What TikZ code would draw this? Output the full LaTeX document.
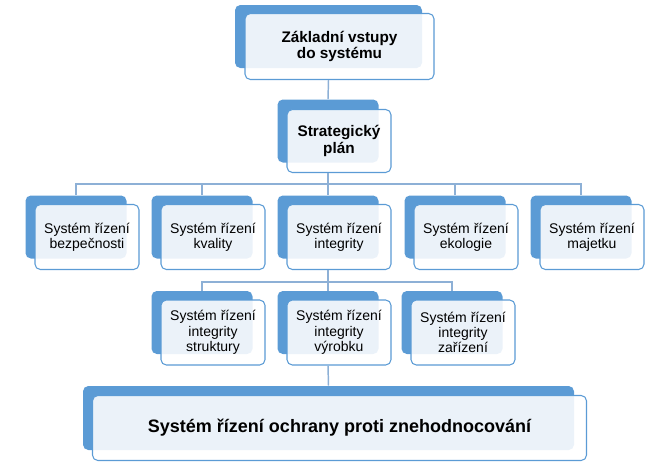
\documentclass[tikz,border=0pt]{standalone}
\usepackage{fontspec}
\setmainfont{Liberation Sans}
\usepackage{tikz}
\definecolor{boxblue}{HTML}{5B9BD5}
\definecolor{linkblue}{HTML}{8DB0D6}

\begin{document}
\begin{tikzpicture}[x=0.75pt,y=-0.75pt,
  back/.style={rectangle,rounded corners=4pt,fill=boxblue,draw=none,inner sep=0pt},
  front/.style={rectangle,rounded corners=4pt,draw=boxblue,line width=0.8pt,fill=white,fill opacity=0.88,text opacity=1,align=center,inner sep=2pt,xshift=8.25pt,yshift=-7.5pt},
  small/.style={minimum width=75.75pt,minimum height=47.25pt},
  smallf/.style={minimum width=78pt,minimum height=48.75pt,font=\fontsize{10.5}{11.5}\selectfont},
  link/.style={draw=linkblue,line width=1.1pt}]
  \useasboundingbox (0,0) rectangle (665,475);
  \node[back,minimum width=140.25pt,minimum height=47.25pt] (topB) at (328.5,36.5) {};
  \node[front,minimum width=141.75pt,minimum height=49.5pt,font=\fontsize{11.5}{12.5}\selectfont\bfseries] (top) at (topB) {Základní vstupy\\do systému};
  \node[back,small] (stratB) at (328,131) {};
  \node[front,minimum width=78pt,minimum height=47.25pt,font=\fontsize{11.5}{12.5}\selectfont\bfseries] (strat) at (stratB) {Strategický\\plán};
  \node[back,small] (s1B) at (76,227) {};
  \node[front,smallf] (s1) at (s1B) {Systém řízení\\bezpečnosti};
  \node[back,small] (s2B) at (202,227) {};
  \node[front,smallf] (s2) at (s2B) {Systém řízení\\kvality};
  \node[back,small] (s3B) at (328,227) {};
  \node[front,smallf] (s3) at (s3B) {Systém řízení\\integrity};
  \node[back,small] (s4B) at (455,227) {};
  \node[front,smallf] (s4) at (s4B) {Systém řízení\\ekologie};
  \node[back,small] (s5B) at (581,227) {};
  \node[front,smallf] (s5) at (s5B) {Systém řízení\\majetku};
  \node[back,small] (i1B) at (202,322.5) {};
  \node[front,smallf] (i1) at (i1B) {Systém řízení\\integrity\\struktury};
  \node[back,small] (i2B) at (328,322.5) {};
  \node[front,smallf] (i2) at (i2B) {Systém řízení\\integrity\\výrobku};
  \node[back,small] (i3B) at (452,322.5) {};
  \node[front,smallf] (i3) at (i3B) {Systém řízení\\integrity\\zařízení};
  \node[back,minimum width=368.25pt,minimum height=48pt] (protB) at (328.5,418) {};
  \node[front,minimum width=370.5pt,minimum height=48.75pt,font=\fontsize{13.5}{15}\selectfont\bfseries] (prot) at (protB) {Systém řízení ochrany proti znehodnocování};
  \coordinate (bus1) at (328,184);
  \coordinate (bus2) at (328,282);
  \draw[link] (topB |- top.south) -- (stratB.north);
  \draw[link] (stratB |- strat.south) -- (bus1);
  \draw[link] (s1B.north) |- (bus1) -| (s5B.north);
  \draw[link] (bus1 -| s2B) -- (s2B.north);
  \draw[link] (bus1) -- (s3B.north);
  \draw[link] (bus1 -| s4B) -- (s4B.north);
  \draw[link] (s3B |- s3.south) -- (bus2);
  \draw[link] (i1B.north) |- (bus2) -| (i3B.north);
  \draw[link] (bus2) -- (i2B.north);
  \draw[link] (i2B |- i2.south) -- (protB.north);
\end{tikzpicture}
\end{document}
